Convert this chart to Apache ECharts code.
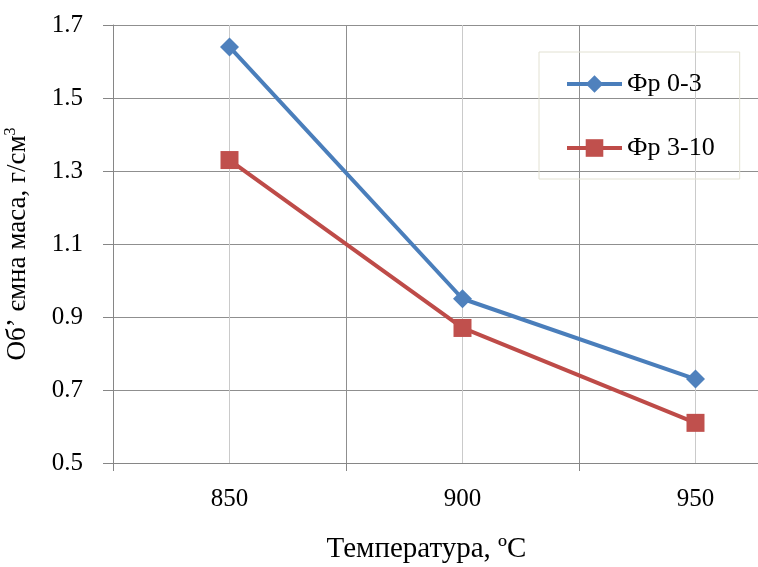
<!DOCTYPE html>
<html>
<head>
<meta charset="utf-8">
<script src="https://cdn.jsdelivr.net/npm/echarts@6/dist/echarts.min.js"></script>
<style>html,body{margin:0;padding:0;background:#fff}#c{width:758px;height:567px}</style>
</head>
<body>
<div id="c"></div>
<script>
var categories = ['850', '900', '950'];
var seriesNames = ['Фр 0-3', 'Фр 3-10'];
var fr03 = [1.64, 0.95, 0.73];
var fr310 = [1.33, 0.87, 0.61];
var yMin = 0.5, yMax = 1.7, yStep = 0.2;
var xTitle = 'Температура, ºC';
var yTitle = 'Об’ ємна маса, г/см';
var yTitleSup = '3';

var FONT = 'Liberation Serif';
var chart = echarts.init(document.getElementById('c'), null, {renderer: 'canvas'});
chart.setOption({
  backgroundColor: '#fff',
  animation: false,
  textStyle: {fontFamily: FONT, color: '#000'},
  grid: {left: 113, top: 25, bottom: 104, right: -54, containLabel: false, outerBoundsMode: 'none'},
  legend: {
    orient: 'vertical',
    left: 539, top: 52,
    padding: [19, 25, 18, 26],
    borderColor: '#e2e1d2', borderWidth: 1,
    itemWidth: 55, itemHeight: 22, itemGap: 38,
    data: seriesNames,
    lineStyle: {width: 4},
    textStyle: {fontFamily: FONT, fontSize: 26, color: '#000'}
  },
  xAxis: [{
    type: 'category',
    data: categories,
    boundaryGap: true,
    axisLine: {lineStyle: {color: '#868686', width: 1}},
    axisTick: {show: true, length: 8, alignWithLabel: false, lineStyle: {color: '#868686'}},
    axisLabel: {fontFamily: FONT, fontSize: 25, color: '#000', margin: 24},
    splitLine: {show: true, lineStyle: {color: '#8f8f8f', width: 1}},
    name: xTitle,
    nameLocation: 'middle',
    nameGap: 72,
    nameTextStyle: {fontFamily: FONT, fontSize: 29, color: '#000', padding: [0, 72, 0, 0]}
  }, {
    type: 'value',
    min: 0, max: 6, interval: 1,
    position: 'bottom',
    axisLine: {show: false}, axisTick: {show: false}, axisLabel: {show: false},
    splitLine: {show: true, lineStyle: {color: ['rgba(0,0,0,0)', '#cacaca'], width: 1}}
  }],
  yAxis: {
    type: 'value',
    min: yMin, max: yMax, interval: yStep,
    axisLine: {show: true, lineStyle: {color: '#868686', width: 1}},
    axisTick: {show: true, length: 10, lineStyle: {color: '#868686'}},
    axisLabel: {fontFamily: FONT, fontSize: 25, color: '#000', margin: 30,
      formatter: function (v) { return v.toFixed(1); }},
    splitLine: {show: true, lineStyle: {color: '#8f8f8f', width: 1}},
    name: '{a|' + yTitle + '}{s|' + yTitleSup + '}',
    nameLocation: 'middle',
    nameGap: 81,
    nameTextStyle: {
      fontFamily: FONT, fontSize: 27, color: '#000',
      rich: {
        a: {fontFamily: FONT, fontSize: 27, color: '#000'},
        s: {fontFamily: FONT, fontSize: 16, color: '#000', padding: [0, 0, 13, 0]}
      }
    }
  },
  series: [{
    name: seriesNames[0],
    type: 'line',
    data: fr03,
    symbol: 'diamond',
    symbolSize: 19,
    lineStyle: {color: '#4A7EBB', width: 4},
    itemStyle: {color: '#4F81BD'},
    z: 3
  }, {
    name: seriesNames[1],
    type: 'line',
    data: fr310,
    symbol: 'rect',
    symbolSize: 18,
    lineStyle: {color: '#BE4B48', width: 4},
    itemStyle: {color: '#C0504D'},
    z: 4
  }]
});
</script>
</body>
</html>
